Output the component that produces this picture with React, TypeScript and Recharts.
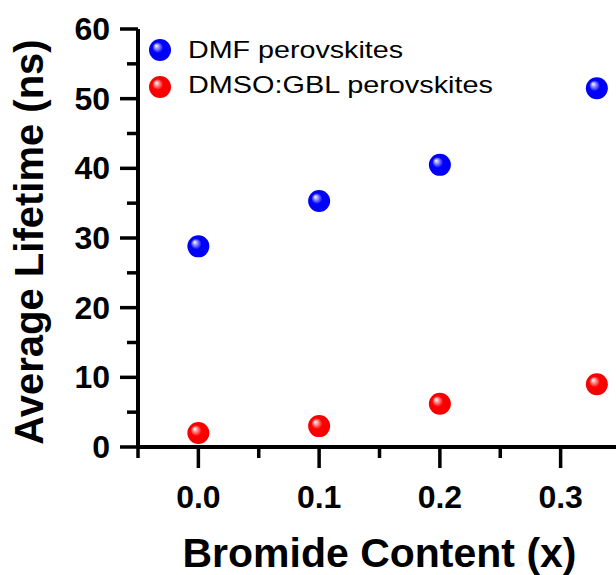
import React from 'react';
import { ScatterChart, Scatter, XAxis, YAxis } from 'recharts';

const xValues = [0, 0.1, 0.2, 0.33];
const dmfLifetime = [28.8, 35.3, 40.5, 51.5];
const dmsoLifetime = [2.0, 3.0, 6.2, 9.0];
const seriesNames = ['DMF perovskites', 'DMSO:GBL perovskites'];
const seriesColors = ['blue', 'red'];
const xMajorTicks = [0, 0.1, 0.2, 0.3];
const xMinorTicks = [-0.05, 0.05, 0.15, 0.25, 0.35];
const yMajorTicks = [0, 10, 20, 30, 40, 50, 60];
const yMinorTicks = [5, 15, 25, 35, 45, 55];
const xTitle = 'Bromide Content (x)';
const yTitle = 'Average Lifetime (ns)';

const dmfData = xValues.map((x, i) => ({ x, y: dmfLifetime[i] }));
const dmsoData = xValues.map((x, i) => ({ x, y: dmsoLifetime[i] }));
const xTicks = [...xMajorTicks, ...xMinorTicks].sort((a, b) => a - b);
const yTicks = [...yMajorTicks, ...yMinorTicks].sort((a, b) => a - b);

const FONT = '"Liberation Sans", Arial, sans-serif';

const GradDef = ({ id, color }: { id: string; color: string }) => (
  <defs>
    <radialGradient id={id} cx="0.5" cy="0.5" r="0.55" fx="0.32" fy="0.3">
      <stop offset="0%" stopColor="#ffffff" />
      <stop offset="18%" stopColor={color === 'blue' ? '#9a9aff' : '#ff9a9a'} />
      <stop offset="45%" stopColor={color === 'blue' ? '#0000ff' : '#ff0000'} />
      <stop offset="100%" stopColor={color === 'blue' ? '#0000f0' : '#f00000'} />
    </radialGradient>
  </defs>
);

const makeSphere = (color: string) => (props: any) => {
  const { cx, cy } = props;
  const id = `sph-${color}`;
  return (
    <g>
      <GradDef id={id} color={color} />
      <circle cx={cx} cy={cy} r={11} fill={`url(#${id})`} />
    </g>
  );
};

const YTick = (props: any) => {
  const { x, y, payload } = props;
  const v = payload.value;
  const major = yMajorTicks.includes(v);
  return (
    <g>
      <line x1={x} x2={x - (major ? 18 : 11)} y1={y} y2={y} stroke="#000" strokeWidth={3.5} />
      {major && (
        <text x={x - 28} y={y} dy={11} textAnchor="end" fontFamily={FONT} fontWeight="bold" fontSize={32} fill="#000">
          {v}
        </text>
      )}
    </g>
  );
};

const XTick = (props: any) => {
  const { x, y, payload } = props;
  const v = payload.value;
  const major = xMajorTicks.some((t) => Math.abs(t - v) < 1e-9);
  return (
    <g>
      <line x1={x} x2={x} y1={y} y2={y + (major ? 21 : 11)} stroke="#000" strokeWidth={3.5} />
      {major && (
        <text x={x} y={y + 61} textAnchor="middle" fontFamily={FONT} fontWeight="bold" fontSize={32} fill="#000">
          {v.toFixed(1)}
        </text>
      )}
    </g>
  );
};

const XLabel = (props: any) => {
  const { viewBox } = props;
  const { x, y, width } = viewBox;
  return (
    <text x={x + width / 2} y={y + 120} textAnchor="middle" fontFamily={FONT} fontWeight="bold" fontSize={41} fill="#000">
      {xTitle}
    </text>
  );
};

const YLabel = (props: any) => {
  const { viewBox } = props;
  const { y, height } = viewBox;
  const cx = 43;
  const cy = y + height / 2 + 4;
  return (
    <text x={cx} y={cy} transform={`rotate(-90 ${cx} ${cy})`} textAnchor="middle" fontFamily={FONT} fontWeight="bold" fontSize={40} fill="#000">
      {yTitle}
    </text>
  );
};

const legendWidths = [215, 305];

export default function App() {
  return (
    <div style={{ position: 'absolute', left: 0, top: 0, width: 616, height: 575, overflow: 'hidden', background: '#fff' }}>
      <ScatterChart width={640} height={575} margin={{ top: 29, right: 19, left: 0, bottom: 0 }}>
        <XAxis
          xAxisId="top"
          orientation="top"
          type="number"
          dataKey="x"
          domain={[-0.05, 0.35]}
          height={0}
          tick={false}
          tickLine={false}
          axisLine={{ stroke: '#000', strokeWidth: 3 }}
        />
        <XAxis
          type="number"
          dataKey="x"
          domain={[-0.05, 0.35]}
          ticks={xTicks}
          interval={0}
          height={128}
          tickSize={0}
          tickMargin={0}
          tickLine={false}
          tick={<XTick />}
          axisLine={{ stroke: '#000', strokeWidth: 4 }}
          label={<XLabel />}
          allowDataOverflow
        />
        <YAxis
          type="number"
          dataKey="y"
          domain={[0, 60]}
          ticks={yTicks}
          interval={0}
          width={138}
          tickSize={0}
          tickMargin={0}
          tickLine={false}
          tick={<YTick />}
          axisLine={{ stroke: '#000', strokeWidth: 4 }}
          label={<YLabel />}
          allowDataOverflow
        />
        <Scatter name={seriesNames[0]} data={dmfData} shape={makeSphere(seriesColors[0])} isAnimationActive={false} />
        <Scatter name={seriesNames[1]} data={dmsoData} shape={makeSphere(seriesColors[1])} isAnimationActive={false} />
      </ScatterChart>
      <svg style={{ position: 'absolute', left: 0, top: 0 }} width={616} height={130}>
        <GradDef id="leg-blue" color="blue" />
        <GradDef id="leg-red" color="red" />
        {seriesNames.map((name, i) => (
          <g key={name}>
            <circle cx={160} cy={50 + i * 37} r={11} fill={`url(#leg-${seriesColors[i]})`} />
            <text
              x={188}
              y={58 + i * 35}
              fontFamily={FONT}
              fontSize={24}
              fill="#000"
              textLength={legendWidths[i]}
              lengthAdjust="spacingAndGlyphs"
            >
              {name}
            </text>
          </g>
        ))}
      </svg>
    </div>
  );
}
